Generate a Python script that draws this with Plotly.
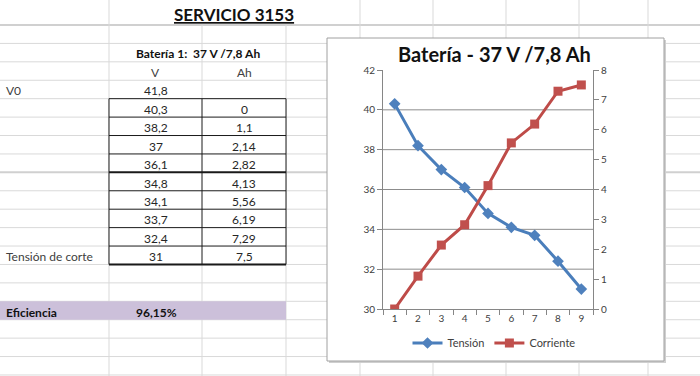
import plotly.graph_objects as go

# ---------------- data ----------------
categories = ["1", "2", "3", "4", "5", "6", "7", "8", "9"]
tension = [40.3, 38.2, 37, 36.1, 34.8, 34.1, 33.7, 32.4, 31]
corriente = [0, 1.1, 2.14, 2.82, 4.13, 5.56, 6.19, 7.29, 7.5]
v0 = 41.8
eficiencia = "96,15%"
sheet_title = "SERVICIO 3153"
table_title = "Batería 1:  37 V /7,8 Ah"
chart_title = "Batería - 37 V /7,8 Ah"
col_headers = ["V", "Ah"]
left_v_ticks = [30, 32, 34, 36, 38, 40, 42]
right_a_ticks = [0, 1, 2, 3, 4, 5, 6, 7, 8]

W, H = 700, 376
FONT = "Lato"


def px(x):
    return x / W


def py(y):
    return 1 - y / H


def fmt(v):
    return f"{v:g}".replace(".", ",")


# ---------------- spreadsheet geometry ----------------
row_top = 25
row_h = 18.42
row_lines = [row_top + row_h * i for i in range(20)]
col_lines = [109, 202, 286, 360, 433, 506, 579, 648]
colB = (109 + 202) / 2
colC = (202 + 286) / 2


def row_center(i):
    return row_top + row_h * i + row_h / 2 + 1.5


shapes = []
GRID = "#d9d9d9"
for i, y in enumerate(row_lines):
    shapes.append(dict(type="line", xref="paper", yref="paper", layer="below",
                       x0=0, x1=1, y0=py(y), y1=py(y),
                       line=dict(color="#d0d0d0" if i in (0, 8) else GRID,
                                 width=2 if i in (0, 8) else 1)))
for x in col_lines:
    ytop = 0 if x in (109, 360, 433, 506, 579, 648) else row_top
    shapes.append(dict(type="line", xref="paper", yref="paper", layer="below",
                       x0=px(x), x1=px(x), y0=py(ytop), y1=py(H),
                       line=dict(color=GRID, width=1)))
shapes.append(dict(type="rect", xref="paper", yref="paper", layer="below",
                   x0=0, x1=px(286), y0=py(row_lines[15]), y1=py(row_lines[16]),
                   fillcolor="#ccc0da", line=dict(width=0)))
t_top, t_bot = row_lines[4], row_lines[13]
shapes.append(dict(type="rect", xref="paper", yref="paper", layer="below",
                   x0=px(109), x1=px(286), y0=py(t_bot), y1=py(t_top),
                   fillcolor="white", line=dict(color="#1a1a1a", width=1)))
shapes.append(dict(type="line", xref="paper", yref="paper", layer="below",
                   x0=px(202), x1=px(202), y0=py(t_bot), y1=py(t_top),
                   line=dict(color="#1a1a1a", width=1)))
for i in range(5, 13):
    y = row_lines[i]
    shapes.append(dict(type="line", xref="paper", yref="paper", layer="below",
                       x0=px(109), x1=px(286), y0=py(y), y1=py(y),
                       line=dict(color="#1a1a1a", width=2 if i == 8 else 1)))
shapes.append(dict(type="line", xref="paper", yref="paper", layer="below",
                   x0=px(109), x1=px(286), y0=py(t_bot), y1=py(t_bot),
                   line=dict(color="#1a1a1a", width=2)))

shapes.append(dict(type="rect", xref="paper", yref="paper", layer="below",
                   x0=px(329), x1=px(666), y0=py(363), y1=py(40),
                   fillcolor="#cfcfcf", line=dict(width=0)))
shapes.append(dict(type="rect", xref="paper", yref="paper", layer="below",
                   x0=px(327), x1=px(664), y0=py(361), y1=py(38),
                   fillcolor="white", line=dict(color="#a0a0a0", width=1)))
for v in left_v_ticks[1:-1]:
    shapes.append(dict(type="line", xref="x domain", yref="y", layer="below",
                       x0=0, x1=1, y0=v, y1=v,
                       line=dict(color="#8c8c8c", width=1)))

# ---------------- annotations ----------------
ann = []


def text(x, y, s, size=12, color="#262626", xanchor="center", bold=False):
    ann.append(dict(x=px(x), y=py(y), xref="paper", yref="paper", text=f"<b>{s}</b>" if bold else s,
                    showarrow=False, xanchor=xanchor, yanchor="middle",
                    font=dict(family=FONT, size=size, color=color)))


text(234, 14, f"<u>{sheet_title}</u>", size=17, color="#111111", bold=True)
text(198, row_center(1) - 1, table_title, size=12, color="#111111", bold=True)
text(colB, row_center(2), col_headers[0], size=12, color="#404040")
text(colC, row_center(2), col_headers[1], size=12, color="#404040")
text(4, row_center(3), "V0", size=12, color="#404040", xanchor="left")
text(colB, row_center(3), fmt(v0))
for i, (tv, cv) in enumerate(zip(tension, corriente)):
    text(colB, row_center(4 + i), fmt(tv))
    text(colC, row_center(4 + i), fmt(cv))
text(4, row_center(12), "Tensión de corte", size=12, color="#404040", xanchor="left")
text(4, row_center(15), "Eficiencia", size=12, color="#111111", xanchor="left", bold=True)
text(156, row_center(15), eficiencia, size=12, color="#111111", bold=True)
text(494, 54, chart_title, size=20, color="#111111", bold=True)

# ---------------- chart ----------------
fig = go.Figure()
fig.add_trace(go.Scatter(x=categories, y=tension, name="Tensión", mode="lines+markers",
                         line=dict(color="#4a7ebb", width=3),
                         marker=dict(symbol="diamond", size=9, color="#4f81bd"),
                         yaxis="y"))
fig.add_trace(go.Scatter(x=categories, y=corriente, name="Corriente", mode="lines+markers",
                         line=dict(color="#be4b48", width=3),
                         marker=dict(symbol="square", size=9, color="#c0504d"),
                         yaxis="y2"))

axis_font = dict(family=FONT, size=10, color="#404040")
fig.update_layout(
    width=W, height=H,
    margin=dict(l=0, r=0, t=0, b=0, pad=0, autoexpand=False),
    paper_bgcolor="white",
    plot_bgcolor="rgba(0,0,0,0)",
    shapes=shapes,
    annotations=ann,
    showlegend=True,
    legend=dict(orientation="h", x=px(494), xanchor="center", y=py(343), yanchor="middle",
                font=dict(family=FONT, size=11, color="#404040"), bgcolor="rgba(0,0,0,0)"),
    xaxis=dict(domain=[px(383), px(593)], type="category", range=[-0.5, 8.5],
               showgrid=False, showline=True, linecolor="#868686", linewidth=1,
               ticks="outside", ticklen=5, tickcolor="#868686", tickson="boundaries",
               tickfont=axis_font, anchor="y", automargin=False),
    yaxis=dict(domain=[py(309), py(70)], range=[30, 42], tickvals=left_v_ticks,
               showgrid=False, zeroline=False, showline=True, linecolor="#868686",
               ticks="outside", ticklen=5, tickcolor="#868686", tickfont=axis_font,
               automargin=False),
    yaxis2=dict(overlaying="y", side="right", range=[0, 8], tickvals=right_a_ticks,
                showgrid=False, zeroline=False, showline=True, linecolor="#868686",
                ticks="outside", ticklen=5, tickcolor="#868686", tickfont=axis_font,
                anchor="x", automargin=False),
)

post = ("document.body.style.margin='0';document.body.style.overflow='hidden';"
        "var d=document.getElementById('{plot_id}');d.style.position='fixed';"
        "d.style.left='0px';d.style.top='0px';")
fig.write_html("out.html", post_script=post, config={"displayModeBar": False})
